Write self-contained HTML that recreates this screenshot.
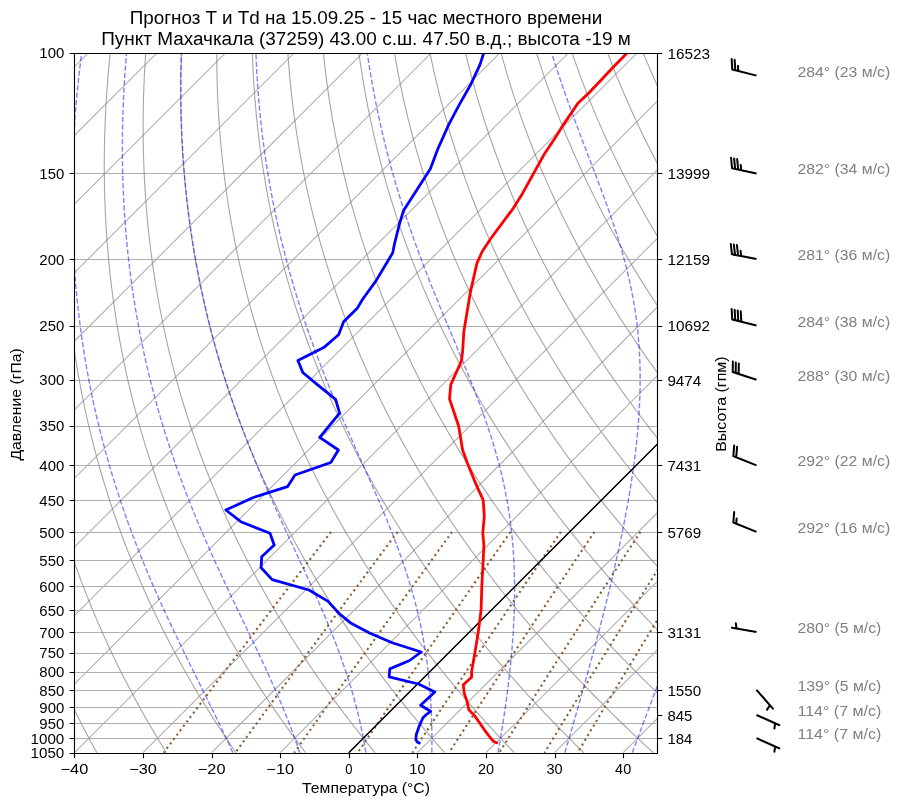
<!DOCTYPE html>
<html><head><meta charset="utf-8"><style>html,body{margin:0;padding:0;background:#fff;}body{width:900px;height:806px;overflow:hidden;}</style></head><body>
<svg width="900" height="806" viewBox="0 0 900 806" style="display:block;will-change:transform" font-family="Liberation Sans, sans-serif">
<defs><clipPath id="ax"><rect x="74.5" y="53.5" width="583.0" height="700.0"/></clipPath></defs>
<rect width="900" height="806" fill="#fff"/>
<g clip-path="url(#ax)">
<path d="M74.50,53.50H657.50M74.50,173.50H657.50M74.50,259.50H657.50M74.50,326.50H657.50M74.50,380.50H657.50M74.50,426.50H657.50M74.50,465.50H657.50M74.50,500.50H657.50M74.50,532.50H657.50M74.50,560.50H657.50M74.50,586.50H657.50M74.50,610.50H657.50M74.50,632.50H657.50M74.50,653.50H657.50M74.50,672.50H657.50M74.50,690.50H657.50M74.50,707.50H657.50M74.50,723.50H657.50M74.50,738.50H657.50M74.50,753.50H657.50" stroke="#b0b0b0" stroke-width="1.11" fill="none"/>
<path d="M-680.02,752.73L19.98,52.73M-611.43,752.73L88.57,52.73M-542.84,752.73L157.16,52.73M-474.26,752.73L225.74,52.73M-405.67,752.73L294.33,52.73M-337.08,752.73L362.92,52.73M-268.49,752.73L431.51,52.73M-199.90,752.73L500.10,52.73M-131.31,752.73L568.69,52.73M-62.73,752.73L637.27,52.73M5.86,752.73L705.86,52.73M74.45,752.73L774.45,52.73M143.04,752.73L843.04,52.73M211.63,752.73L911.63,52.73M280.21,752.73L980.21,52.73M348.80,752.73L1048.80,52.73M417.39,752.73L1117.39,52.73M485.98,752.73L1185.98,52.73M554.57,752.73L1254.57,52.73M623.16,752.73L1323.16,52.73" stroke="#b0b0b0" stroke-width="1.11" fill="none"/>
<path d="M96.90,752.73 L95.64,750.46 L94.38,748.17 L93.11,745.86 L91.85,743.54 L90.58,741.19 L89.31,738.83 L88.04,736.45 L86.76,734.05 L85.49,731.63 L84.21,729.19 L82.93,726.73 L81.65,724.25 L80.37,721.75 L79.09,719.23 L77.80,716.68 L76.52,714.12 L75.23,711.53 L73.94,708.92 L72.65,706.28 L71.35,703.63 L70.06,700.94 L68.76,698.24 L67.47,695.51 L66.17,692.75 L64.87,689.97 L63.57,687.16 L62.26,684.33 L60.96,681.47 L59.66,678.58 L58.35,675.66 L57.05,672.71 L55.74,669.74 L54.43,666.73 L53.12,663.69 L51.81,660.62 L50.50,657.52 L49.19,654.39 L47.88,651.23 L46.57,648.03 L45.26,644.79 L43.95,641.52 L42.64,638.21 L41.33,634.87 L40.01,631.49 L38.70,628.07 L37.39,624.61 L36.09,621.10 L34.78,617.56 L33.47,613.98 L32.16,610.35 L30.86,606.67 L29.56,602.95 L28.25,599.19 L26.95,595.37 L25.66,591.50 L24.36,587.59 L23.07,583.62 L21.78,579.60 L20.49,575.52 L19.21,571.39 L17.93,567.20 L16.66,562.95 L15.39,558.63 L14.12,554.26 L12.86,549.82 L11.61,545.31 L10.36,540.73 L9.12,536.08 L7.89,531.36 L6.66,526.56 L5.44,521.68 L4.23,516.72 L3.03,511.67 L1.84,506.54 L0.66,501.32 L-0.50,496.01 L-1.66,490.60 L-2.80,485.09 L-3.92,479.48 L-5.03,473.75 L-6.13,467.92 L-7.20,461.97 L-8.26,455.89 L-9.29,449.70 L-10.31,443.37 L-11.29,436.90 L-12.26,430.29 L-13.19,423.52 L-14.10,416.60 L-14.97,409.52 L-15.81,402.26 L-16.61,394.83 L-17.38,387.20 L-18.09,379.37 L-18.77,371.33 L-19.38,363.06 L-19.95,354.56 L-20.45,345.81 L-20.89,336.80 L-21.26,327.50 L-21.55,317.91 L-21.75,307.99 L-21.86,297.73 L-21.86,287.11 L-21.76,276.09 L-21.52,264.65 L-21.15,252.76 L-20.62,240.37 L-19.92,227.43 L-19.03,213.92 L-17.92,199.76 L-16.57,184.89 L-14.93,169.24 L-12.98,152.72 L-10.67,135.23 L-7.93,116.65 L-4.71,96.83 L-0.91,75.59 L3.58,52.73M166.45,752.73 L165.04,750.46 L163.62,748.17 L162.21,745.86 L160.79,743.54 L159.36,741.19 L157.94,738.83 L156.51,736.45 L155.08,734.05 L153.65,731.63 L152.21,729.19 L150.77,726.73 L149.33,724.25 L147.89,721.75 L146.44,719.23 L144.99,716.68 L143.54,714.12 L142.08,711.53 L140.63,708.92 L139.17,706.28 L137.70,703.63 L136.24,700.94 L134.77,698.24 L133.30,695.51 L131.83,692.75 L130.35,689.97 L128.88,687.16 L127.40,684.33 L125.91,681.47 L124.43,678.58 L122.94,675.66 L121.46,672.71 L119.96,669.74 L118.47,666.73 L116.98,663.69 L115.48,660.62 L113.98,657.52 L112.48,654.39 L110.98,651.23 L109.47,648.03 L107.97,644.79 L106.46,641.52 L104.95,638.21 L103.44,634.87 L101.93,631.49 L100.41,628.07 L98.90,624.61 L97.38,621.10 L95.87,617.56 L94.35,613.98 L92.83,610.35 L91.31,606.67 L89.79,602.95 L88.27,599.19 L86.76,595.37 L85.24,591.50 L83.72,587.59 L82.20,583.62 L80.68,579.60 L79.17,575.52 L77.65,571.39 L76.14,567.20 L74.63,562.95 L73.12,558.63 L71.61,554.26 L70.11,549.82 L68.61,545.31 L67.11,540.73 L65.61,536.08 L64.12,531.36 L62.64,526.56 L61.16,521.68 L59.69,516.72 L58.22,511.67 L56.76,506.54 L55.31,501.32 L53.86,496.01 L52.43,490.60 L51.00,485.09 L49.58,479.48 L48.18,473.75 L46.79,467.92 L45.41,461.97 L44.05,455.89 L42.71,449.70 L41.38,443.37 L40.07,436.90 L38.78,430.29 L37.52,423.52 L36.27,416.60 L35.06,409.52 L33.87,402.26 L32.72,394.83 L31.60,387.20 L30.51,379.37 L29.47,371.33 L28.47,363.06 L27.51,354.56 L26.61,345.81 L25.77,336.80 L24.99,327.50 L24.28,317.91 L23.64,307.99 L23.08,297.73 L22.62,287.11 L22.26,276.09 L22.02,264.65 L21.89,252.76 L21.91,240.37 L22.09,227.43 L22.44,213.92 L22.99,199.76 L23.76,184.89 L24.79,169.24 L26.12,152.72 L27.78,135.23 L29.84,116.65 L32.35,96.83 L35.41,75.59 L39.11,52.73M236.00,752.73 L234.44,750.46 L232.87,748.17 L231.30,745.86 L229.73,743.54 L228.15,741.19 L226.57,738.83 L224.98,736.45 L223.39,734.05 L221.80,731.63 L220.21,729.19 L218.61,726.73 L217.01,724.25 L215.40,721.75 L213.79,719.23 L212.18,716.68 L210.56,714.12 L208.94,711.53 L207.31,708.92 L205.68,706.28 L204.05,703.63 L202.42,700.94 L200.78,698.24 L199.14,695.51 L197.49,692.75 L195.84,689.97 L194.19,687.16 L192.53,684.33 L190.87,681.47 L189.20,678.58 L187.54,675.66 L185.87,672.71 L184.19,669.74 L182.51,666.73 L180.83,663.69 L179.15,660.62 L177.46,657.52 L175.77,654.39 L174.07,651.23 L172.37,648.03 L170.67,644.79 L168.97,641.52 L167.26,638.21 L165.55,634.87 L163.84,631.49 L162.12,628.07 L160.40,624.61 L158.68,621.10 L156.95,617.56 L155.23,613.98 L153.50,610.35 L151.77,606.67 L150.03,602.95 L148.30,599.19 L146.56,595.37 L144.82,591.50 L143.08,587.59 L141.33,583.62 L139.59,579.60 L137.84,575.52 L136.09,571.39 L134.35,567.20 L132.60,562.95 L130.85,558.63 L129.10,554.26 L127.35,549.82 L125.60,545.31 L123.85,540.73 L122.11,536.08 L120.36,531.36 L118.62,526.56 L116.88,521.68 L115.14,516.72 L113.40,511.67 L111.67,506.54 L109.95,501.32 L108.22,496.01 L106.51,490.60 L104.80,485.09 L103.09,479.48 L101.39,473.75 L99.71,467.92 L98.03,461.97 L96.36,455.89 L94.71,449.70 L93.06,443.37 L91.43,436.90 L89.82,430.29 L88.22,423.52 L86.65,416.60 L85.09,409.52 L83.56,402.26 L82.05,394.83 L80.57,387.20 L79.12,379.37 L77.70,371.33 L76.32,363.06 L74.97,354.56 L73.68,345.81 L72.43,336.80 L71.23,327.50 L70.10,317.91 L69.03,307.99 L68.03,297.73 L67.11,287.11 L66.28,276.09 L65.55,264.65 L64.94,252.76 L64.45,240.37 L64.10,227.43 L63.91,213.92 L63.90,199.76 L64.09,184.89 L64.52,169.24 L65.22,152.72 L66.24,135.23 L67.61,116.65 L69.41,96.83 L71.72,75.59 L74.63,52.73M305.55,752.73 L303.84,750.46 L302.12,748.17 L300.39,745.86 L298.67,743.54 L296.93,741.19 L295.20,738.83 L293.46,736.45 L291.71,734.05 L289.96,731.63 L288.20,729.19 L286.45,726.73 L284.68,724.25 L282.91,721.75 L281.14,719.23 L279.36,716.68 L277.58,714.12 L275.79,711.53 L274.00,708.92 L272.20,706.28 L270.40,703.63 L268.60,700.94 L266.79,698.24 L264.97,695.51 L263.15,692.75 L261.32,689.97 L259.49,687.16 L257.66,684.33 L255.82,681.47 L253.98,678.58 L252.13,675.66 L250.27,672.71 L248.42,669.74 L246.55,666.73 L244.69,663.69 L242.81,660.62 L240.94,657.52 L239.05,654.39 L237.17,651.23 L235.28,648.03 L233.38,644.79 L231.48,641.52 L229.57,638.21 L227.66,634.87 L225.75,631.49 L223.83,628.07 L221.90,624.61 L219.98,621.10 L218.04,617.56 L216.11,613.98 L214.17,610.35 L212.22,606.67 L210.27,602.95 L208.32,599.19 L206.36,595.37 L204.40,591.50 L202.43,587.59 L200.46,583.62 L198.49,579.60 L196.51,575.52 L194.54,571.39 L192.55,567.20 L190.57,562.95 L188.58,558.63 L186.59,554.26 L184.59,549.82 L182.60,545.31 L180.60,540.73 L178.60,536.08 L176.60,531.36 L174.60,526.56 L172.60,521.68 L170.59,516.72 L168.59,511.67 L166.59,506.54 L164.59,501.32 L162.59,496.01 L160.59,490.60 L158.59,485.09 L156.60,479.48 L154.61,473.75 L152.62,467.92 L150.64,461.97 L148.67,455.89 L146.70,449.70 L144.75,443.37 L142.80,436.90 L140.86,430.29 L138.93,423.52 L137.02,416.60 L135.12,409.52 L133.24,402.26 L131.38,394.83 L129.54,387.20 L127.72,379.37 L125.93,371.33 L124.17,363.06 L122.44,354.56 L120.74,345.81 L119.09,336.80 L117.48,327.50 L115.92,317.91 L114.41,307.99 L112.97,297.73 L111.60,287.11 L110.30,276.09 L109.09,264.65 L107.98,252.76 L106.98,240.37 L106.11,227.43 L105.38,213.92 L104.81,199.76 L104.42,184.89 L104.25,169.24 L104.33,152.72 L104.69,135.23 L105.38,116.65 L106.47,96.83 L108.03,75.59 L110.16,52.73M375.10,752.73 L373.24,750.46 L371.36,748.17 L369.49,745.86 L367.61,743.54 L365.72,741.19 L363.83,738.83 L361.93,736.45 L360.03,734.05 L358.12,731.63 L356.20,729.19 L354.28,726.73 L352.36,724.25 L350.43,721.75 L348.49,719.23 L346.55,716.68 L344.60,714.12 L342.65,711.53 L340.69,708.92 L338.72,706.28 L336.75,703.63 L334.77,700.94 L332.79,698.24 L330.80,695.51 L328.81,692.75 L326.81,689.97 L324.80,687.16 L322.79,684.33 L320.77,681.47 L318.75,678.58 L316.72,675.66 L314.68,672.71 L312.64,669.74 L310.59,666.73 L308.54,663.69 L306.48,660.62 L304.41,657.52 L302.34,654.39 L300.26,651.23 L298.18,648.03 L296.09,644.79 L293.99,641.52 L291.88,638.21 L289.77,634.87 L287.66,631.49 L285.54,628.07 L283.41,624.61 L281.27,621.10 L279.13,617.56 L276.99,613.98 L274.83,610.35 L272.67,606.67 L270.51,602.95 L268.34,599.19 L266.16,595.37 L263.98,591.50 L261.79,587.59 L259.59,583.62 L257.39,579.60 L255.19,575.52 L252.98,571.39 L250.76,567.20 L248.54,562.95 L246.31,558.63 L244.08,554.26 L241.84,549.82 L239.59,545.31 L237.35,540.73 L235.10,536.08 L232.84,531.36 L230.58,526.56 L228.31,521.68 L226.05,516.72 L223.78,511.67 L221.50,506.54 L219.23,501.32 L216.95,496.01 L214.67,490.60 L212.39,485.09 L210.10,479.48 L207.82,473.75 L205.54,467.92 L203.26,461.97 L200.98,455.89 L198.70,449.70 L196.43,443.37 L194.16,436.90 L191.90,430.29 L189.64,423.52 L187.39,416.60 L185.16,409.52 L182.93,402.26 L180.71,394.83 L178.51,387.20 L176.33,379.37 L174.16,371.33 L172.02,363.06 L169.90,354.56 L167.81,345.81 L165.75,336.80 L163.72,327.50 L161.74,317.91 L159.80,307.99 L157.91,297.73 L156.08,287.11 L154.32,276.09 L152.63,264.65 L151.03,252.76 L149.52,240.37 L148.12,227.43 L146.84,213.92 L145.72,199.76 L144.75,184.89 L143.98,169.24 L143.43,152.72 L143.14,135.23 L143.16,116.65 L143.54,96.83 L144.35,75.59 L145.68,52.73M444.65,752.73 L442.64,750.46 L440.61,748.17 L438.58,745.86 L436.55,743.54 L434.50,741.19 L432.46,738.83 L430.40,736.45 L428.34,734.05 L426.27,731.63 L424.20,729.19 L422.12,726.73 L420.03,724.25 L417.94,721.75 L415.84,719.23 L413.73,716.68 L411.62,714.12 L409.50,711.53 L407.37,708.92 L405.24,706.28 L403.10,703.63 L400.95,700.94 L398.80,698.24 L396.64,695.51 L394.47,692.75 L392.30,689.97 L390.11,687.16 L387.92,684.33 L385.73,681.47 L383.52,678.58 L381.31,675.66 L379.09,672.71 L376.87,669.74 L374.64,666.73 L372.39,663.69 L370.15,660.62 L367.89,657.52 L365.63,654.39 L363.36,651.23 L361.08,648.03 L358.79,644.79 L356.50,641.52 L354.20,638.21 L351.89,634.87 L349.57,631.49 L347.24,628.07 L344.91,624.61 L342.57,621.10 L340.22,617.56 L337.87,613.98 L335.50,610.35 L333.13,606.67 L330.75,602.95 L328.36,599.19 L325.96,595.37 L323.56,591.50 L321.15,587.59 L318.73,583.62 L316.30,579.60 L313.86,575.52 L311.42,571.39 L308.97,567.20 L306.51,562.95 L304.04,558.63 L301.56,554.26 L299.08,549.82 L296.59,545.31 L294.09,540.73 L291.59,536.08 L289.08,531.36 L286.56,526.56 L284.03,521.68 L281.50,516.72 L278.96,511.67 L276.42,506.54 L273.87,501.32 L271.31,496.01 L268.75,490.60 L266.18,485.09 L263.61,479.48 L261.04,473.75 L258.46,467.92 L255.87,461.97 L253.29,455.89 L250.70,449.70 L248.11,443.37 L245.53,436.90 L242.94,430.29 L240.35,423.52 L237.77,416.60 L235.19,409.52 L232.61,402.26 L230.04,394.83 L227.48,387.20 L224.93,379.37 L222.39,371.33 L219.87,363.06 L217.36,354.56 L214.87,345.81 L212.41,336.80 L209.97,327.50 L207.56,317.91 L205.19,307.99 L202.85,297.73 L200.57,287.11 L198.34,276.09 L196.17,264.65 L194.07,252.76 L192.05,240.37 L190.13,227.43 L188.31,213.92 L186.62,199.76 L185.08,184.89 L183.71,169.24 L182.53,152.72 L181.59,135.23 L180.93,116.65 L180.60,96.83 L180.66,75.59 L181.21,52.73M514.20,752.73 L512.04,750.46 L509.86,748.17 L507.68,745.86 L505.49,743.54 L503.29,741.19 L501.09,738.83 L498.87,736.45 L496.66,734.05 L494.43,731.63 L492.20,729.19 L489.96,726.73 L487.71,724.25 L485.45,721.75 L483.19,719.23 L480.92,716.68 L478.64,714.12 L476.35,711.53 L474.06,708.92 L471.76,706.28 L469.45,703.63 L467.13,700.94 L464.81,698.24 L462.47,695.51 L460.13,692.75 L457.78,689.97 L455.42,687.16 L453.06,684.33 L450.68,681.47 L448.30,678.58 L445.90,675.66 L443.50,672.71 L441.09,669.74 L438.68,666.73 L436.25,663.69 L433.81,660.62 L431.37,657.52 L428.91,654.39 L426.45,651.23 L423.98,648.03 L421.50,644.79 L419.01,641.52 L416.51,638.21 L414.00,634.87 L411.48,631.49 L408.95,628.07 L406.42,624.61 L403.87,621.10 L401.31,617.56 L398.74,613.98 L396.17,610.35 L393.58,606.67 L390.99,602.95 L388.38,599.19 L385.76,595.37 L383.14,591.50 L380.50,587.59 L377.86,583.62 L375.20,579.60 L372.53,575.52 L369.86,571.39 L367.17,567.20 L364.48,562.95 L361.77,558.63 L359.05,554.26 L356.32,549.82 L353.59,545.31 L350.84,540.73 L348.08,536.08 L345.32,531.36 L342.54,526.56 L339.75,521.68 L336.95,516.72 L334.15,511.67 L331.33,506.54 L328.51,501.32 L325.67,496.01 L322.83,490.60 L319.98,485.09 L317.12,479.48 L314.25,473.75 L311.37,467.92 L308.49,461.97 L305.60,455.89 L302.70,449.70 L299.80,443.37 L296.89,436.90 L293.98,430.29 L291.06,423.52 L288.14,416.60 L285.22,409.52 L282.30,402.26 L279.37,394.83 L276.45,387.20 L273.54,379.37 L270.62,371.33 L267.72,363.06 L264.82,354.56 L261.94,345.81 L259.07,336.80 L256.21,327.50 L253.38,317.91 L250.57,307.99 L247.80,297.73 L245.06,287.11 L242.36,276.09 L239.71,264.65 L237.11,252.76 L234.59,240.37 L232.14,227.43 L229.78,213.92 L227.53,199.76 L225.41,184.89 L223.44,169.24 L221.64,152.72 L220.04,135.23 L218.70,116.65 L217.66,96.83 L216.97,75.59 L216.73,52.73M583.76,752.73 L581.43,750.46 L579.11,748.17 L576.77,745.86 L574.43,743.54 L572.07,741.19 L569.71,738.83 L567.35,736.45 L564.97,734.05 L562.59,731.63 L560.19,729.19 L557.79,726.73 L555.38,724.25 L552.97,721.75 L550.54,719.23 L548.11,716.68 L545.66,714.12 L543.21,711.53 L540.75,708.92 L538.28,706.28 L535.80,703.63 L533.31,700.94 L530.81,698.24 L528.31,695.51 L525.79,692.75 L523.27,689.97 L520.73,687.16 L518.19,684.33 L515.63,681.47 L513.07,678.58 L510.50,675.66 L507.91,672.71 L505.32,669.74 L502.72,666.73 L500.10,663.69 L497.48,660.62 L494.85,657.52 L492.20,654.39 L489.55,651.23 L486.88,648.03 L484.21,644.79 L481.52,641.52 L478.82,638.21 L476.11,634.87 L473.39,631.49 L470.66,628.07 L467.92,624.61 L465.17,621.10 L462.40,617.56 L459.62,613.98 L456.84,610.35 L454.04,606.67 L451.23,602.95 L448.40,599.19 L445.57,595.37 L442.72,591.50 L439.86,587.59 L436.99,583.62 L434.10,579.60 L431.21,575.52 L428.30,571.39 L425.38,567.20 L422.45,562.95 L419.50,558.63 L416.54,554.26 L413.57,549.82 L410.58,545.31 L407.59,540.73 L404.58,536.08 L401.55,531.36 L398.52,526.56 L395.47,521.68 L392.41,516.72 L389.33,511.67 L386.25,506.54 L383.15,501.32 L380.04,496.01 L376.91,490.60 L373.77,485.09 L370.62,479.48 L367.46,473.75 L364.29,467.92 L361.10,461.97 L357.91,455.89 L354.70,449.70 L351.48,443.37 L348.25,436.90 L345.02,430.29 L341.77,423.52 L338.51,416.60 L335.25,409.52 L331.98,402.26 L328.71,394.83 L325.43,387.20 L322.14,379.37 L318.85,371.33 L315.57,363.06 L312.28,354.56 L309.00,345.81 L305.72,336.80 L302.46,327.50 L299.20,317.91 L295.96,307.99 L292.74,297.73 L289.54,287.11 L286.38,276.09 L283.24,264.65 L280.16,252.76 L277.12,240.37 L274.15,227.43 L271.25,213.92 L268.44,199.76 L265.74,184.89 L263.16,169.24 L260.74,152.72 L258.50,135.23 L256.47,116.65 L254.72,96.83 L253.29,75.59 L252.26,52.73M653.31,752.73 L650.83,750.46 L648.35,748.17 L645.86,745.86 L643.37,743.54 L640.86,741.19 L638.34,738.83 L635.82,736.45 L633.29,734.05 L630.74,731.63 L628.19,729.19 L625.63,726.73 L623.06,724.25 L620.48,721.75 L617.89,719.23 L615.29,716.68 L612.68,714.12 L610.06,711.53 L607.44,708.92 L604.80,706.28 L602.15,703.63 L599.49,700.94 L596.82,698.24 L594.14,695.51 L591.45,692.75 L588.75,689.97 L586.04,687.16 L583.32,684.33 L580.59,681.47 L577.84,678.58 L575.09,675.66 L572.32,672.71 L569.55,669.74 L566.76,666.73 L563.96,663.69 L561.15,660.62 L558.32,657.52 L555.49,654.39 L552.64,651.23 L549.78,648.03 L546.91,644.79 L544.03,641.52 L541.13,638.21 L538.22,634.87 L535.30,631.49 L532.37,628.07 L529.42,624.61 L526.46,621.10 L523.49,617.56 L520.50,613.98 L517.50,610.35 L514.49,606.67 L511.46,602.95 L508.42,599.19 L505.37,595.37 L502.30,591.50 L499.22,587.59 L496.12,583.62 L493.01,579.60 L489.88,575.52 L486.74,571.39 L483.59,567.20 L480.41,562.95 L477.23,558.63 L474.03,554.26 L470.81,549.82 L467.58,545.31 L464.33,540.73 L461.07,536.08 L457.79,531.36 L454.50,526.56 L451.19,521.68 L447.86,516.72 L444.52,511.67 L441.16,506.54 L437.79,501.32 L434.40,496.01 L430.99,490.60 L427.57,485.09 L424.13,479.48 L420.68,473.75 L417.21,467.92 L413.72,461.97 L410.22,455.89 L406.70,449.70 L403.17,443.37 L399.62,436.90 L396.06,430.29 L392.48,423.52 L388.89,416.60 L385.28,409.52 L381.67,402.26 L378.04,394.83 L374.40,387.20 L370.75,379.37 L367.09,371.33 L363.42,363.06 L359.74,354.56 L356.07,345.81 L352.38,336.80 L348.70,327.50 L345.02,317.91 L341.35,307.99 L337.68,297.73 L334.03,287.11 L330.39,276.09 L326.78,264.65 L323.20,252.76 L319.66,240.37 L316.16,227.43 L312.72,213.92 L309.35,199.76 L306.07,184.89 L302.89,169.24 L299.84,152.72 L296.95,135.23 L294.25,116.65 L291.78,96.83 L289.60,75.59 L287.78,52.73M722.86,752.73 L720.23,750.46 L717.60,748.17 L714.96,745.86 L712.31,743.54 L709.64,741.19 L706.97,738.83 L704.29,736.45 L701.60,734.05 L698.90,731.63 L696.19,729.19 L693.47,726.73 L690.74,724.25 L687.99,721.75 L685.24,719.23 L682.48,716.68 L679.70,714.12 L676.92,711.53 L674.12,708.92 L671.32,706.28 L668.50,703.63 L665.67,700.94 L662.83,698.24 L659.98,695.51 L657.11,692.75 L654.24,689.97 L651.35,687.16 L648.45,684.33 L645.54,681.47 L642.62,678.58 L639.68,675.66 L636.73,672.71 L633.77,669.74 L630.80,666.73 L627.81,663.69 L624.81,660.62 L621.80,657.52 L618.78,654.39 L615.74,651.23 L612.68,648.03 L609.62,644.79 L606.54,641.52 L603.44,638.21 L600.34,634.87 L597.21,631.49 L594.08,628.07 L590.93,624.61 L587.76,621.10 L584.58,617.56 L581.38,613.98 L578.17,610.35 L574.94,606.67 L571.70,602.95 L568.44,599.19 L565.17,595.37 L561.88,591.50 L558.57,587.59 L555.25,583.62 L551.91,579.60 L548.56,575.52 L545.18,571.39 L541.79,567.20 L538.38,562.95 L534.96,558.63 L531.52,554.26 L528.06,549.82 L524.58,545.31 L521.08,540.73 L517.56,536.08 L514.03,531.36 L510.48,526.56 L506.91,521.68 L503.32,516.72 L499.71,511.67 L496.08,506.54 L492.43,501.32 L488.76,496.01 L485.07,490.60 L481.37,485.09 L477.64,479.48 L473.89,473.75 L470.12,467.92 L466.33,461.97 L462.53,455.89 L458.70,449.70 L454.85,443.37 L450.98,436.90 L447.10,430.29 L443.19,423.52 L439.26,416.60 L435.32,409.52 L431.35,402.26 L427.37,394.83 L423.37,387.20 L419.35,379.37 L415.32,371.33 L411.27,363.06 L407.21,354.56 L403.13,345.81 L399.04,336.80 L394.95,327.50 L390.84,317.91 L386.73,307.99 L382.62,297.73 L378.52,287.11 L374.41,276.09 L370.32,264.65 L366.24,252.76 L362.19,240.37 L358.17,227.43 L354.19,213.92 L350.26,199.76 L346.40,184.89 L342.62,169.24 L338.95,152.72 L335.40,135.23 L332.02,116.65 L328.84,96.83 L325.91,75.59 L323.31,52.73M792.41,752.73 L789.63,750.46 L786.85,748.17 L784.05,745.86 L781.25,743.54 L778.43,741.19 L775.60,738.83 L772.76,736.45 L769.92,734.05 L767.06,731.63 L764.19,729.19 L761.30,726.73 L758.41,724.25 L755.51,721.75 L752.59,719.23 L749.66,716.68 L746.72,714.12 L743.77,711.53 L740.81,708.92 L737.83,706.28 L734.85,703.63 L731.85,700.94 L728.84,698.24 L725.81,695.51 L722.77,692.75 L719.72,689.97 L716.66,687.16 L713.58,684.33 L710.49,681.47 L707.39,678.58 L704.27,675.66 L701.14,672.71 L698.00,669.74 L694.84,666.73 L691.67,663.69 L688.48,660.62 L685.28,657.52 L682.06,654.39 L678.83,651.23 L675.59,648.03 L672.33,644.79 L669.05,641.52 L665.76,638.21 L662.45,634.87 L659.13,631.49 L655.79,628.07 L652.43,624.61 L649.06,621.10 L645.67,617.56 L642.26,613.98 L638.84,610.35 L635.40,606.67 L631.94,602.95 L628.47,599.19 L624.97,595.37 L621.46,591.50 L617.93,587.59 L614.38,583.62 L610.81,579.60 L607.23,575.52 L603.62,571.39 L600.00,567.20 L596.35,562.95 L592.69,558.63 L589.00,554.26 L585.30,549.82 L581.57,545.31 L577.83,540.73 L574.06,536.08 L570.27,531.36 L566.46,526.56 L562.63,521.68 L558.77,516.72 L554.89,511.67 L550.99,506.54 L547.07,501.32 L543.12,496.01 L539.15,490.60 L535.16,485.09 L531.14,479.48 L527.10,473.75 L523.04,467.92 L518.95,461.97 L514.84,455.89 L510.70,449.70 L506.54,443.37 L502.35,436.90 L498.14,430.29 L493.90,423.52 L489.64,416.60 L485.35,409.52 L481.04,402.26 L476.70,394.83 L472.34,387.20 L467.96,379.37 L463.55,371.33 L459.12,363.06 L454.67,354.56 L450.19,345.81 L445.70,336.80 L441.19,327.50 L436.66,317.91 L432.12,307.99 L427.57,297.73 L423.00,287.11 L418.43,276.09 L413.86,264.65 L409.29,252.76 L404.73,240.37 L400.18,227.43 L395.66,213.92 L391.17,199.76 L386.73,184.89 L382.35,169.24 L378.05,152.72 L373.85,135.23 L369.79,116.65 L365.90,96.83 L362.23,75.59 L358.83,52.73M861.96,752.73 L859.03,750.46 L856.10,748.17 L853.15,745.86 L850.19,743.54 L847.22,741.19 L844.23,738.83 L841.24,736.45 L838.23,734.05 L835.21,731.63 L832.18,729.19 L829.14,726.73 L826.09,724.25 L823.02,721.75 L819.94,719.23 L816.85,716.68 L813.74,714.12 L810.63,711.53 L807.50,708.92 L804.35,706.28 L801.20,703.63 L798.03,700.94 L794.84,698.24 L791.65,695.51 L788.43,692.75 L785.21,689.97 L781.97,687.16 L778.71,684.33 L775.45,681.47 L772.16,678.58 L768.87,675.66 L765.55,672.71 L762.22,669.74 L758.88,666.73 L755.52,663.69 L752.15,660.62 L748.76,657.52 L745.35,654.39 L741.93,651.23 L738.49,648.03 L735.03,644.79 L731.56,641.52 L728.07,638.21 L724.56,634.87 L721.04,631.49 L717.49,628.07 L713.93,624.61 L710.35,621.10 L706.76,617.56 L703.14,613.98 L699.51,610.35 L695.85,606.67 L692.18,602.95 L688.49,599.19 L684.77,595.37 L681.04,591.50 L677.29,587.59 L673.51,583.62 L669.72,579.60 L665.90,575.52 L662.06,571.39 L658.20,567.20 L654.32,562.95 L650.42,558.63 L646.49,554.26 L642.54,549.82 L638.57,545.31 L634.57,540.73 L630.55,536.08 L626.51,531.36 L622.44,526.56 L618.34,521.68 L614.22,516.72 L610.08,511.67 L605.91,506.54 L601.71,501.32 L597.49,496.01 L593.24,490.60 L588.96,485.09 L584.65,479.48 L580.32,473.75 L575.96,467.92 L571.56,461.97 L567.15,455.89 L562.70,449.70 L558.22,443.37 L553.71,436.90 L549.17,430.29 L544.61,423.52 L540.01,416.60 L535.38,409.52 L530.72,402.26 L526.03,394.83 L521.31,387.20 L516.56,379.37 L511.78,371.33 L506.97,363.06 L502.13,354.56 L497.26,345.81 L492.36,336.80 L487.44,327.50 L482.48,317.91 L477.51,307.99 L472.51,297.73 L467.49,287.11 L462.45,276.09 L457.40,264.65 L452.33,252.76 L447.26,240.37 L442.19,227.43 L437.13,213.92 L432.08,199.76 L427.06,184.89 L422.08,169.24 L417.15,152.72 L412.31,135.23 L407.56,116.65 L402.96,96.83 L398.54,75.59 L394.36,52.73M931.51,752.73 L928.43,750.46 L925.34,748.17 L922.24,745.86 L919.13,743.54 L916.00,741.19 L912.86,738.83 L909.71,736.45 L906.55,734.05 L903.37,731.63 L900.18,729.19 L896.98,726.73 L893.76,724.25 L890.53,721.75 L887.29,719.23 L884.03,716.68 L880.77,714.12 L877.48,711.53 L874.18,708.92 L870.87,706.28 L867.55,703.63 L864.21,700.94 L860.85,698.24 L857.48,695.51 L854.09,692.75 L850.69,689.97 L847.28,687.16 L843.85,684.33 L840.40,681.47 L836.94,678.58 L833.46,675.66 L829.96,672.71 L826.45,669.74 L822.92,666.73 L819.38,663.69 L815.81,660.62 L812.23,657.52 L808.64,654.39 L805.02,651.23 L801.39,648.03 L797.74,644.79 L794.07,641.52 L790.38,638.21 L786.67,634.87 L782.95,631.49 L779.20,628.07 L775.44,624.61 L771.65,621.10 L767.85,617.56 L764.02,613.98 L760.17,610.35 L756.31,606.67 L752.42,602.95 L748.51,599.19 L744.58,595.37 L740.62,591.50 L736.64,587.59 L732.64,583.62 L728.62,579.60 L724.58,575.52 L720.51,571.39 L716.41,567.20 L712.29,562.95 L708.15,558.63 L703.98,554.26 L699.79,549.82 L695.57,545.31 L691.32,540.73 L687.05,536.08 L682.75,531.36 L678.42,526.56 L674.06,521.68 L669.68,516.72 L665.26,511.67 L660.82,506.54 L656.35,501.32 L651.85,496.01 L647.32,490.60 L642.75,485.09 L638.16,479.48 L633.53,473.75 L628.87,467.92 L624.18,461.97 L619.46,455.89 L614.70,449.70 L609.90,443.37 L605.08,436.90 L600.21,430.29 L595.32,423.52 L590.38,416.60 L585.41,409.52 L580.41,402.26 L575.36,394.83 L570.28,387.20 L565.17,379.37 L560.01,371.33 L554.82,363.06 L549.59,354.56 L544.32,345.81 L539.02,336.80 L533.68,327.50 L528.31,317.91 L522.90,307.99 L517.45,297.73 L511.97,287.11 L506.47,276.09 L500.93,264.65 L495.37,252.76 L489.80,240.37 L484.20,227.43 L478.59,213.92 L472.99,199.76 L467.39,184.89 L461.80,169.24 L456.25,152.72 L450.76,135.23 L445.34,116.65 L440.02,96.83 L434.85,75.59 L429.88,52.73M1001.06,752.73 L997.83,750.46 L994.59,748.17 L991.33,745.86 L988.07,743.54 L984.79,741.19 L981.49,738.83 L978.18,736.45 L974.86,734.05 L971.53,731.63 L968.18,729.19 L964.81,726.73 L961.44,724.25 L958.05,721.75 L954.64,719.23 L951.22,716.68 L947.79,714.12 L944.34,711.53 L940.87,708.92 L937.39,706.28 L933.90,703.63 L930.38,700.94 L926.86,698.24 L923.31,695.51 L919.75,692.75 L916.18,689.97 L912.59,687.16 L908.98,684.33 L905.35,681.47 L901.71,678.58 L898.05,675.66 L894.37,672.71 L890.68,669.74 L886.96,666.73 L883.23,663.69 L879.48,660.62 L875.71,657.52 L871.92,654.39 L868.12,651.23 L864.29,648.03 L860.44,644.79 L856.58,641.52 L852.69,638.21 L848.79,634.87 L844.86,631.49 L840.91,628.07 L836.94,624.61 L832.95,621.10 L828.94,617.56 L824.90,613.98 L820.84,610.35 L816.76,606.67 L812.66,602.95 L808.53,599.19 L804.38,595.37 L800.20,591.50 L796.00,587.59 L791.78,583.62 L787.53,579.60 L783.25,575.52 L778.95,571.39 L774.62,567.20 L770.26,562.95 L765.88,558.63 L761.47,554.26 L757.03,549.82 L752.56,545.31 L748.07,540.73 L743.54,536.08 L738.98,531.36 L734.40,526.56 L729.78,521.68 L725.13,516.72 L720.45,511.67 L715.74,506.54 L710.99,501.32 L706.21,496.01 L701.40,490.60 L696.55,485.09 L691.66,479.48 L686.74,473.75 L681.79,467.92 L676.80,461.97 L671.76,455.89 L666.70,449.70 L661.59,443.37 L656.44,436.90 L651.25,430.29 L646.03,423.52 L640.76,416.60 L635.44,409.52 L630.09,402.26 L624.70,394.83 L619.26,387.20 L613.77,379.37 L608.24,371.33 L602.67,363.06 L597.05,354.56 L591.39,345.81 L585.68,336.80 L579.93,327.50 L574.13,317.91 L568.28,307.99 L562.39,297.73 L556.46,287.11 L550.49,276.09 L544.47,264.65 L538.42,252.76 L532.33,240.37 L526.21,227.43 L520.06,213.92 L513.90,199.76 L507.71,184.89 L501.53,169.24 L495.36,152.72 L489.21,135.23 L483.11,116.65 L477.08,96.83 L471.17,75.59 L465.41,52.73M1070.61,752.73 L1067.23,750.46 L1063.84,748.17 L1060.43,745.86 L1057.01,743.54 L1053.57,741.19 L1050.12,738.83 L1046.66,736.45 L1043.18,734.05 L1039.68,731.63 L1036.18,729.19 L1032.65,726.73 L1029.11,724.25 L1025.56,721.75 L1021.99,719.23 L1018.41,716.68 L1014.81,714.12 L1011.19,711.53 L1007.56,708.92 L1003.91,706.28 L1000.24,703.63 L996.56,700.94 L992.86,698.24 L989.15,695.51 L985.42,692.75 L981.66,689.97 L977.90,687.16 L974.11,684.33 L970.31,681.47 L966.48,678.58 L962.64,675.66 L958.78,672.71 L954.90,669.74 L951.00,666.73 L947.09,663.69 L943.15,660.62 L939.19,657.52 L935.21,654.39 L931.21,651.23 L927.19,648.03 L923.15,644.79 L919.09,641.52 L915.00,638.21 L910.90,634.87 L906.77,631.49 L902.62,628.07 L898.44,624.61 L894.25,621.10 L890.02,617.56 L885.78,613.98 L881.51,610.35 L877.21,606.67 L872.89,602.95 L868.55,599.19 L864.18,595.37 L859.78,591.50 L855.36,587.59 L850.91,583.62 L846.43,579.60 L841.92,575.52 L837.39,571.39 L832.82,567.20 L828.23,562.95 L823.61,558.63 L818.96,554.26 L814.27,549.82 L809.56,545.31 L804.81,540.73 L800.03,536.08 L795.22,531.36 L790.38,526.56 L785.50,521.68 L780.59,516.72 L775.64,511.67 L770.65,506.54 L765.63,501.32 L760.57,496.01 L755.48,490.60 L750.34,485.09 L745.17,479.48 L739.96,473.75 L734.70,467.92 L729.41,461.97 L724.07,455.89 L718.69,449.70 L713.27,443.37 L707.80,436.90 L702.29,430.29 L696.73,423.52 L691.13,416.60 L685.48,409.52 L679.78,402.26 L674.03,394.83 L668.23,387.20 L662.38,379.37 L656.48,371.33 L650.52,363.06 L644.51,354.56 L638.45,345.81 L632.34,336.80 L626.17,327.50 L619.95,317.91 L613.67,307.99 L607.34,297.73 L600.95,287.11 L594.51,276.09 L588.01,264.65 L581.46,252.76 L574.86,240.37 L568.22,227.43 L561.53,213.92 L554.80,199.76 L548.04,184.89 L541.26,169.24 L534.46,152.72 L527.66,135.23 L520.88,116.65 L514.14,96.83 L507.48,75.59 L500.93,52.73M1140.16,752.73 L1136.63,750.46 L1133.08,748.17 L1129.52,745.86 L1125.95,743.54 L1122.36,741.19 L1118.75,738.83 L1115.13,736.45 L1111.49,734.05 L1107.84,731.63 L1104.17,729.19 L1100.49,726.73 L1096.79,724.25 L1093.07,721.75 L1089.34,719.23 L1085.59,716.68 L1081.83,714.12 L1078.04,711.53 L1074.25,708.92 L1070.43,706.28 L1066.59,703.63 L1062.74,700.94 L1058.87,698.24 L1054.98,695.51 L1051.08,692.75 L1047.15,689.97 L1043.21,687.16 L1039.24,684.33 L1035.26,681.47 L1031.26,678.58 L1027.23,675.66 L1023.19,672.71 L1019.13,669.74 L1015.04,666.73 L1010.94,663.69 L1006.81,660.62 L1002.67,657.52 L998.50,654.39 L994.31,651.23 L990.09,648.03 L985.86,644.79 L981.60,641.52 L977.32,638.21 L973.01,634.87 L968.68,631.49 L964.33,628.07 L959.95,624.61 L955.54,621.10 L951.11,617.56 L946.66,613.98 L942.18,610.35 L937.67,606.67 L933.13,602.95 L928.57,599.19 L923.98,595.37 L919.36,591.50 L914.71,587.59 L910.04,583.62 L905.33,579.60 L900.60,575.52 L895.83,571.39 L891.03,567.20 L886.20,562.95 L881.34,558.63 L876.44,554.26 L871.52,549.82 L866.56,545.31 L861.56,540.73 L856.53,536.08 L851.46,531.36 L846.36,526.56 L841.22,521.68 L836.04,516.72 L830.82,511.67 L825.57,506.54 L820.27,501.32 L814.94,496.01 L809.56,490.60 L804.14,485.09 L798.68,479.48 L793.17,473.75 L787.62,467.92 L782.03,461.97 L776.38,455.89 L770.69,449.70 L764.96,443.37 L759.17,436.90 L753.33,430.29 L747.44,423.52 L741.50,416.60 L735.51,409.52 L729.46,402.26 L723.36,394.83 L717.20,387.20 L710.98,379.37 L704.71,371.33 L698.37,363.06 L691.98,354.56 L685.52,345.81 L679.00,336.80 L672.42,327.50 L665.77,317.91 L659.06,307.99 L652.28,297.73 L645.43,287.11 L638.52,276.09 L631.55,264.65 L624.51,252.76 L617.40,240.37 L610.23,227.43 L603.00,213.92 L595.71,199.76 L588.37,184.89 L580.99,169.24 L573.56,152.72 L566.11,135.23 L558.65,116.65 L551.21,96.83 L543.79,75.59 L536.46,52.73M1209.71,752.73 L1206.03,750.46 L1202.33,748.17 L1198.62,745.86 L1194.89,743.54 L1191.14,741.19 L1187.38,738.83 L1183.60,736.45 L1179.81,734.05 L1176.00,731.63 L1172.17,729.19 L1168.33,726.73 L1164.46,724.25 L1160.59,721.75 L1156.69,719.23 L1152.78,716.68 L1148.85,714.12 L1144.90,711.53 L1140.93,708.92 L1136.95,706.28 L1132.94,703.63 L1128.92,700.94 L1124.88,698.24 L1120.82,695.51 L1116.74,692.75 L1112.64,689.97 L1108.51,687.16 L1104.37,684.33 L1100.21,681.47 L1096.03,678.58 L1091.83,675.66 L1087.60,672.71 L1083.35,669.74 L1079.09,666.73 L1074.80,663.69 L1070.48,660.62 L1066.15,657.52 L1061.79,654.39 L1057.40,651.23 L1053.00,648.03 L1048.56,644.79 L1044.11,641.52 L1039.63,638.21 L1035.12,634.87 L1030.59,631.49 L1026.03,628.07 L1021.45,624.61 L1016.84,621.10 L1012.20,617.56 L1007.54,613.98 L1002.84,610.35 L998.12,606.67 L993.37,602.95 L988.59,599.19 L983.78,595.37 L978.94,591.50 L974.07,587.59 L969.17,583.62 L964.24,579.60 L959.27,575.52 L954.27,571.39 L949.24,567.20 L944.17,562.95 L939.07,558.63 L933.93,554.26 L928.76,549.82 L923.55,545.31 L918.31,540.73 L913.02,536.08 L907.70,531.36 L902.34,526.56 L896.94,521.68 L891.49,516.72 L886.01,511.67 L880.48,506.54 L874.91,501.32 L869.30,496.01 L863.64,490.60 L857.94,485.09 L852.18,479.48 L846.39,473.75 L840.54,467.92 L834.64,461.97 L828.69,455.89 L822.69,449.70 L816.64,443.37 L810.53,436.90 L804.37,430.29 L798.15,423.52 L791.88,416.60 L785.54,409.52 L779.15,402.26 L772.69,394.83 L766.17,387.20 L759.59,379.37 L752.94,371.33 L746.22,363.06 L739.44,354.56 L732.58,345.81 L725.66,336.80 L718.66,327.50 L711.59,317.91 L704.44,307.99 L697.22,297.73 L689.92,287.11 L682.54,276.09 L675.09,264.65 L667.55,252.76 L659.93,240.37 L652.24,227.43 L644.47,213.92 L636.62,199.76 L628.70,184.89 L620.72,169.24 L612.67,152.72 L604.57,135.23 L596.43,116.65 L588.27,96.83 L580.11,75.59 L571.98,52.73M1279.27,752.73 L1275.43,750.46 L1271.58,748.17 L1267.71,745.86 L1263.83,743.54 L1259.93,741.19 L1256.01,738.83 L1252.07,736.45 L1248.12,734.05 L1244.15,731.63 L1240.17,729.19 L1236.16,726.73 L1232.14,724.25 L1228.10,721.75 L1224.04,719.23 L1219.96,716.68 L1215.87,714.12 L1211.75,711.53 L1207.62,708.92 L1203.47,706.28 L1199.29,703.63 L1195.10,700.94 L1190.89,698.24 L1186.65,695.51 L1182.40,692.75 L1178.12,689.97 L1173.82,687.16 L1169.51,684.33 L1165.17,681.47 L1160.80,678.58 L1156.42,675.66 L1152.01,672.71 L1147.58,669.74 L1143.13,666.73 L1138.65,663.69 L1134.15,660.62 L1129.62,657.52 L1125.07,654.39 L1120.50,651.23 L1115.90,648.03 L1111.27,644.79 L1106.62,641.52 L1101.94,638.21 L1097.24,634.87 L1092.50,631.49 L1087.74,628.07 L1082.95,624.61 L1078.14,621.10 L1073.29,617.56 L1068.42,613.98 L1063.51,610.35 L1058.58,606.67 L1053.61,602.95 L1048.61,599.19 L1043.58,595.37 L1038.52,591.50 L1033.43,587.59 L1028.30,583.62 L1023.14,579.60 L1017.94,575.52 L1012.71,571.39 L1007.44,567.20 L1002.14,562.95 L996.80,558.63 L991.42,554.26 L986.00,549.82 L980.55,545.31 L975.05,540.73 L969.52,536.08 L963.94,531.36 L958.32,526.56 L952.65,521.68 L946.95,516.72 L941.19,511.67 L935.40,506.54 L929.55,501.32 L923.66,496.01 L917.72,490.60 L911.73,485.09 L905.69,479.48 L899.60,473.75 L893.45,467.92 L887.26,461.97 L881.00,455.89 L874.69,449.70 L868.32,443.37 L861.90,436.90 L855.41,430.29 L848.86,423.52 L842.25,416.60 L835.57,409.52 L828.83,402.26 L822.02,394.83 L815.14,387.20 L808.19,379.37 L801.17,371.33 L794.07,363.06 L786.90,354.56 L779.65,345.81 L772.32,336.80 L764.91,327.50 L757.41,317.91 L749.83,307.99 L742.16,297.73 L734.41,287.11 L726.56,276.09 L718.62,264.65 L710.59,252.76 L702.47,240.37 L694.25,227.43 L685.94,213.92 L677.53,199.76 L669.03,184.89 L660.44,169.24 L651.77,152.72 L643.02,135.23 L634.20,116.65 L625.33,96.83 L616.42,75.59 L607.51,52.73M1348.82,752.73 L1344.83,750.46 L1340.83,748.17 L1336.81,745.86 L1332.77,743.54 L1328.71,741.19 L1324.64,738.83 L1320.55,736.45 L1316.44,734.05 L1312.31,731.63 L1308.16,729.19 L1304.00,726.73 L1299.82,724.25 L1295.61,721.75 L1291.39,719.23 L1287.15,716.68 L1282.89,714.12 L1278.61,711.53 L1274.31,708.92 L1269.98,706.28 L1265.64,703.63 L1261.28,700.94 L1256.89,698.24 L1252.49,695.51 L1248.06,692.75 L1243.61,689.97 L1239.13,687.16 L1234.64,684.33 L1230.12,681.47 L1225.58,678.58 L1221.01,675.66 L1216.42,672.71 L1211.81,669.74 L1207.17,666.73 L1202.50,663.69 L1197.82,660.62 L1193.10,657.52 L1188.36,654.39 L1183.59,651.23 L1178.80,648.03 L1173.98,644.79 L1169.13,641.52 L1164.25,638.21 L1159.35,634.87 L1154.41,631.49 L1149.45,628.07 L1144.46,624.61 L1139.43,621.10 L1134.38,617.56 L1129.30,613.98 L1124.18,610.35 L1119.03,606.67 L1113.85,602.95 L1108.63,599.19 L1103.39,595.37 L1098.10,591.50 L1092.79,587.59 L1087.43,583.62 L1082.04,579.60 L1076.62,575.52 L1071.15,571.39 L1065.65,567.20 L1060.11,562.95 L1054.53,558.63 L1048.91,554.26 L1043.25,549.82 L1037.54,545.31 L1031.80,540.73 L1026.01,536.08 L1020.18,531.36 L1014.30,526.56 L1008.37,521.68 L1002.40,516.72 L996.38,511.67 L990.31,506.54 L984.19,501.32 L978.02,496.01 L971.80,490.60 L965.53,485.09 L959.20,479.48 L952.81,473.75 L946.37,467.92 L939.87,461.97 L933.31,455.89 L926.69,449.70 L920.01,443.37 L913.26,436.90 L906.45,430.29 L899.57,423.52 L892.62,416.60 L885.61,409.52 L878.52,402.26 L871.35,394.83 L864.11,387.20 L856.80,379.37 L849.40,371.33 L841.92,363.06 L834.36,354.56 L826.71,345.81 L818.98,336.80 L811.15,327.50 L803.23,317.91 L795.22,307.99 L787.11,297.73 L778.89,287.11 L770.58,276.09 L762.16,264.65 L753.64,252.76 L745.00,240.37 L736.26,227.43 L727.41,213.92 L718.44,199.76 L709.36,184.89 L700.17,169.24 L690.87,152.72 L681.47,135.23 L671.97,116.65 L662.39,96.83 L652.73,75.59 L643.03,52.73" stroke="#808080" stroke-opacity="0.7" stroke-width="1.11" fill="none"/>
<path d="M232.85,752.73 L231.82,750.46 L230.77,748.17 L229.71,745.86 L228.64,743.54 L227.55,741.19 L226.44,738.83 L225.33,736.45 L224.19,734.05 L223.04,731.63 L221.88,729.19 L220.71,726.73 L219.51,724.25 L218.31,721.75 L217.09,719.23 L215.85,716.68 L214.60,714.12 L213.34,711.53 L212.06,708.92 L210.77,706.28 L209.46,703.63 L208.14,700.94 L206.80,698.24 L205.45,695.51 L204.09,692.75 L202.71,689.97 L201.32,687.16 L199.91,684.33 L198.49,681.47 L197.06,678.58 L195.61,675.66 L194.16,672.71 L192.68,669.74 L191.20,666.73 L189.70,663.69 L188.19,660.62 L186.67,657.52 L185.14,654.39 L183.59,651.23 L182.03,648.03 L180.46,644.79 L178.88,641.52 L177.29,638.21 L175.69,634.87 L174.08,631.49 L172.46,628.07 L170.83,624.61 L169.18,621.10 L167.53,617.56 L165.87,613.98 L164.20,610.35 L162.53,606.67 L160.84,602.95 L159.15,599.19 L157.45,595.37 L155.74,591.50 L154.03,587.59 L152.30,583.62 L150.58,579.60 L148.84,575.52 L147.10,571.39 L145.36,567.20 L143.61,562.95 L141.86,558.63 L140.10,554.26 L138.34,549.82 L136.58,545.31 L134.81,540.73 L133.05,536.08 L131.28,531.36 L129.51,526.56 L127.74,521.68 L125.96,516.72 L124.19,511.67 L122.43,506.54 L120.66,501.32 L118.90,496.01 L117.13,490.60 L115.38,485.09 L113.63,479.48 L111.88,473.75 L110.14,467.92 L108.41,461.97 L106.69,455.89 L104.98,449.70 L103.27,443.37 L101.59,436.90 L99.91,430.29 L98.25,423.52 L96.61,416.60 L94.99,409.52 L93.39,402.26 L91.81,394.83 L90.26,387.20 L88.74,379.37 L87.25,371.33 L85.79,363.06 L84.37,354.56 L83.00,345.81 L81.67,336.80 L80.39,327.50 L79.17,317.91 L78.01,307.99 L76.93,297.73 L75.92,287.11 L75.00,276.09 L74.18,264.65 L73.46,252.76 L72.87,240.37 L72.42,227.43 L72.12,213.92 L72.00,199.76 L72.08,184.89 L72.39,169.24 L72.97,152.72 L73.85,135.23 L75.09,116.65 L76.75,96.83 L78.91,75.59 L81.67,52.73M299.77,752.73 L299.01,750.46 L298.24,748.17 L297.44,745.86 L296.64,743.54 L295.81,741.19 L294.96,738.83 L294.10,736.45 L293.22,734.05 L292.33,731.63 L291.41,729.19 L290.48,726.73 L289.52,724.25 L288.55,721.75 L287.56,719.23 L286.55,716.68 L285.52,714.12 L284.47,711.53 L283.40,708.92 L282.31,706.28 L281.20,703.63 L280.07,700.94 L278.92,698.24 L277.74,695.51 L276.55,692.75 L275.33,689.97 L274.10,687.16 L272.84,684.33 L271.56,681.47 L270.25,678.58 L268.93,675.66 L267.59,672.71 L266.22,669.74 L264.83,666.73 L263.42,663.69 L261.99,660.62 L260.53,657.52 L259.05,654.39 L257.56,651.23 L256.04,648.03 L254.50,644.79 L252.93,641.52 L251.35,638.21 L249.75,634.87 L248.12,631.49 L246.48,628.07 L244.81,624.61 L243.12,621.10 L241.42,617.56 L239.69,613.98 L237.95,610.35 L236.18,606.67 L234.40,602.95 L232.60,599.19 L230.78,595.37 L228.95,591.50 L227.10,587.59 L225.23,583.62 L223.34,579.60 L221.44,575.52 L219.52,571.39 L217.59,567.20 L215.65,562.95 L213.69,558.63 L211.72,554.26 L209.74,549.82 L207.74,545.31 L205.73,540.73 L203.72,536.08 L201.69,531.36 L199.65,526.56 L197.61,521.68 L195.55,516.72 L193.49,511.67 L191.42,506.54 L189.35,501.32 L187.27,496.01 L185.19,490.60 L183.10,485.09 L181.01,479.48 L178.92,473.75 L176.82,467.92 L174.73,461.97 L172.64,455.89 L170.55,449.70 L168.47,443.37 L166.39,436.90 L164.31,430.29 L162.25,423.52 L160.19,416.60 L158.14,409.52 L156.11,402.26 L154.09,394.83 L152.09,387.20 L150.11,379.37 L148.15,371.33 L146.21,363.06 L144.31,354.56 L142.43,345.81 L140.59,336.80 L138.79,327.50 L137.04,317.91 L135.33,307.99 L133.69,297.73 L132.10,287.11 L130.59,276.09 L129.16,264.65 L127.83,252.76 L126.59,240.37 L125.48,227.43 L124.49,213.92 L123.67,199.76 L123.01,184.89 L122.57,169.24 L122.35,152.72 L122.41,135.23 L122.80,116.65 L123.56,96.83 L124.78,75.59 L126.54,52.73M365.91,752.73 L365.54,750.46 L365.15,748.17 L364.74,745.86 L364.33,743.54 L363.89,741.19 L363.45,738.83 L362.99,736.45 L362.51,734.05 L362.02,731.63 L361.51,729.19 L360.98,726.73 L360.44,724.25 L359.88,721.75 L359.30,719.23 L358.70,716.68 L358.09,714.12 L357.45,711.53 L356.79,708.92 L356.12,706.28 L355.42,703.63 L354.70,700.94 L353.96,698.24 L353.20,695.51 L352.42,692.75 L351.61,689.97 L350.77,687.16 L349.92,684.33 L349.03,681.47 L348.12,678.58 L347.19,675.66 L346.23,672.71 L345.24,669.74 L344.22,666.73 L343.18,663.69 L342.11,660.62 L341.00,657.52 L339.87,654.39 L338.71,651.23 L337.51,648.03 L336.29,644.79 L335.03,641.52 L333.74,638.21 L332.42,634.87 L331.06,631.49 L329.68,628.07 L328.25,624.61 L326.80,621.10 L325.31,617.56 L323.79,613.98 L322.23,610.35 L320.63,606.67 L319.01,602.95 L317.34,599.19 L315.64,595.37 L313.91,591.50 L312.14,587.59 L310.34,583.62 L308.51,579.60 L306.64,575.52 L304.73,571.39 L302.79,567.20 L300.82,562.95 L298.82,558.63 L296.78,554.26 L294.72,549.82 L292.62,545.31 L290.49,540.73 L288.33,536.08 L286.14,531.36 L283.93,526.56 L281.69,521.68 L279.42,516.72 L277.13,511.67 L274.81,506.54 L272.47,501.32 L270.10,496.01 L267.72,490.60 L265.31,485.09 L262.89,479.48 L260.45,473.75 L257.99,467.92 L255.52,461.97 L253.04,455.89 L250.54,449.70 L248.03,443.37 L245.51,436.90 L242.98,430.29 L240.45,423.52 L237.91,416.60 L235.38,409.52 L232.84,402.26 L230.30,394.83 L227.76,387.20 L225.23,379.37 L222.71,371.33 L220.20,363.06 L217.70,354.56 L215.22,345.81 L212.77,336.80 L210.33,327.50 L207.93,317.91 L205.56,307.99 L203.22,297.73 L200.94,287.11 L198.71,276.09 L196.53,264.65 L194.43,252.76 L192.41,240.37 L190.48,227.43 L188.67,213.92 L186.97,199.76 L185.42,184.89 L184.04,169.24 L182.86,152.72 L181.92,135.23 L181.25,116.65 L180.91,96.83 L180.97,75.59 L181.51,52.73M431.81,752.73 L431.85,750.46 L431.88,748.17 L431.90,745.86 L431.91,743.54 L431.92,741.19 L431.92,738.83 L431.91,736.45 L431.89,734.05 L431.86,731.63 L431.83,729.19 L431.78,726.73 L431.73,724.25 L431.67,721.75 L431.59,719.23 L431.51,716.68 L431.41,714.12 L431.30,711.53 L431.18,708.92 L431.05,706.28 L430.90,703.63 L430.74,700.94 L430.57,698.24 L430.38,695.51 L430.17,692.75 L429.95,689.97 L429.72,687.16 L429.47,684.33 L429.20,681.47 L428.91,678.58 L428.60,675.66 L428.27,672.71 L427.93,669.74 L427.56,666.73 L427.17,663.69 L426.76,660.62 L426.32,657.52 L425.86,654.39 L425.37,651.23 L424.86,648.03 L424.32,644.79 L423.75,641.52 L423.15,638.21 L422.53,634.87 L421.87,631.49 L421.17,628.07 L420.45,624.61 L419.69,621.10 L418.89,617.56 L418.05,613.98 L417.18,610.35 L416.27,606.67 L415.31,602.95 L414.31,599.19 L413.27,595.37 L412.18,591.50 L411.05,587.59 L409.86,583.62 L408.63,579.60 L407.35,575.52 L406.02,571.39 L404.63,567.20 L403.18,562.95 L401.69,558.63 L400.13,554.26 L398.52,549.82 L396.84,545.31 L395.11,540.73 L393.32,536.08 L391.46,531.36 L389.55,526.56 L387.57,521.68 L385.52,516.72 L383.42,511.67 L381.25,506.54 L379.02,501.32 L376.72,496.01 L374.37,490.60 L371.95,485.09 L369.47,479.48 L366.94,473.75 L364.34,467.92 L361.69,461.97 L358.99,455.89 L356.23,449.70 L353.42,443.37 L350.56,436.90 L347.65,430.29 L344.70,423.52 L341.71,416.60 L338.67,409.52 L335.61,402.26 L332.50,394.83 L329.37,387.20 L326.21,379.37 L323.03,371.33 L319.83,363.06 L316.61,354.56 L313.38,345.81 L310.13,336.80 L306.89,327.50 L303.64,317.91 L300.40,307.99 L297.17,297.73 L293.96,287.11 L290.76,276.09 L287.60,264.65 L284.48,252.76 L281.40,240.37 L278.39,227.43 L275.44,213.92 L272.58,199.76 L269.82,184.89 L267.18,169.24 L264.70,152.72 L262.39,135.23 L260.30,116.65 L258.47,96.83 L256.97,75.59 L255.86,52.73M498.03,752.73 L498.42,750.46 L498.82,748.17 L499.22,745.86 L499.61,743.54 L500.01,741.19 L500.40,738.83 L500.79,736.45 L501.19,734.05 L501.58,731.63 L501.97,729.19 L502.36,726.73 L502.75,724.25 L503.14,721.75 L503.52,719.23 L503.90,716.68 L504.29,714.12 L504.67,711.53 L505.04,708.92 L505.42,706.28 L505.79,703.63 L506.16,700.94 L506.53,698.24 L506.90,695.51 L507.26,692.75 L507.61,689.97 L507.97,687.16 L508.32,684.33 L508.66,681.47 L509.00,678.58 L509.34,675.66 L509.67,672.71 L509.99,669.74 L510.31,666.73 L510.62,663.69 L510.92,660.62 L511.22,657.52 L511.51,654.39 L511.79,651.23 L512.06,648.03 L512.32,644.79 L512.57,641.52 L512.81,638.21 L513.04,634.87 L513.26,631.49 L513.46,628.07 L513.65,624.61 L513.83,621.10 L513.99,617.56 L514.13,613.98 L514.26,610.35 L514.37,606.67 L514.46,602.95 L514.52,599.19 L514.57,595.37 L514.59,591.50 L514.59,587.59 L514.57,583.62 L514.51,579.60 L514.42,575.52 L514.31,571.39 L514.16,567.20 L513.97,562.95 L513.75,558.63 L513.49,554.26 L513.19,549.82 L512.84,545.31 L512.44,540.73 L511.99,536.08 L511.49,531.36 L510.94,526.56 L510.32,521.68 L509.64,516.72 L508.90,511.67 L508.08,506.54 L507.19,501.32 L506.21,496.01 L505.16,490.60 L504.02,485.09 L502.78,479.48 L501.45,473.75 L500.01,467.92 L498.47,461.97 L496.82,455.89 L495.05,449.70 L493.16,443.37 L491.14,436.90 L489.00,430.29 L486.72,423.52 L484.31,416.60 L481.76,409.52 L479.07,402.26 L476.23,394.83 L473.26,387.20 L470.14,379.37 L466.88,371.33 L463.49,363.06 L459.96,354.56 L456.30,345.81 L452.52,336.80 L448.62,327.50 L444.61,317.91 L440.50,307.99 L436.29,297.73 L432.01,287.11 L427.65,276.09 L423.23,264.65 L418.76,252.76 L414.25,240.37 L409.71,227.43 L405.17,213.92 L400.63,199.76 L396.11,184.89 L391.63,169.24 L387.21,152.72 L382.89,135.23 L378.68,116.65 L374.63,96.83 L370.79,75.59 L367.21,52.73M564.84,752.73 L565.51,750.46 L566.18,748.17 L566.86,745.86 L567.54,743.54 L568.22,741.19 L568.91,738.83 L569.60,736.45 L570.30,734.05 L571.00,731.63 L571.71,729.19 L572.42,726.73 L573.14,724.25 L573.86,721.75 L574.59,719.23 L575.32,716.68 L576.06,714.12 L576.80,711.53 L577.55,708.92 L578.30,706.28 L579.05,703.63 L579.82,700.94 L580.58,698.24 L581.35,695.51 L582.13,692.75 L582.92,689.97 L583.70,687.16 L584.50,684.33 L585.30,681.47 L586.10,678.58 L586.91,675.66 L587.73,672.71 L588.55,669.74 L589.38,666.73 L590.21,663.69 L591.04,660.62 L591.89,657.52 L592.74,654.39 L593.59,651.23 L594.45,648.03 L595.32,644.79 L596.19,641.52 L597.06,638.21 L597.95,634.87 L598.83,631.49 L599.73,628.07 L600.62,624.61 L601.53,621.10 L602.44,617.56 L603.35,613.98 L604.27,610.35 L605.20,606.67 L606.13,602.95 L607.06,599.19 L608.00,595.37 L608.94,591.50 L609.89,587.59 L610.84,583.62 L611.79,579.60 L612.75,575.52 L613.71,571.39 L614.67,567.20 L615.64,562.95 L616.61,558.63 L617.58,554.26 L618.55,549.82 L619.52,545.31 L620.49,540.73 L621.46,536.08 L622.42,531.36 L623.39,526.56 L624.35,521.68 L625.30,516.72 L626.25,511.67 L627.19,506.54 L628.12,501.32 L629.05,496.01 L629.96,490.60 L630.85,485.09 L631.73,479.48 L632.59,473.75 L633.42,467.92 L634.23,461.97 L635.01,455.89 L635.76,449.70 L636.47,443.37 L637.14,436.90 L637.76,430.29 L638.33,423.52 L638.84,416.60 L639.27,409.52 L639.63,402.26 L639.91,394.83 L640.08,387.20 L640.15,379.37 L640.09,371.33 L639.90,363.06 L639.54,354.56 L639.02,345.81 L638.29,336.80 L637.35,327.50 L636.17,317.91 L634.72,307.99 L632.96,297.73 L630.88,287.11 L628.45,276.09 L625.62,264.65 L622.38,252.76 L618.70,240.37 L614.57,227.43 L609.97,213.92 L604.91,199.76 L599.39,184.89 L593.45,169.24 L587.11,152.72 L580.43,135.23 L573.46,116.65 L566.26,96.83 L558.92,75.59 L551.49,52.73M632.27,752.73 L633.12,750.46 L633.97,748.17 L634.83,745.86 L635.69,743.54 L636.57,741.19 L637.45,738.83 L638.34,736.45 L639.23,734.05 L640.14,731.63 L641.05,729.19 L641.97,726.73 L642.90,724.25 L643.83,721.75 L644.78,719.23 L645.73,716.68 L646.69,714.12 L647.66,711.53 L648.64,708.92 L649.63,706.28 L650.63,703.63 L651.64,700.94 L652.66,698.24 L653.69,695.51 L654.72,692.75 L655.77,689.97 L656.83,687.16 L657.90,684.33 L658.98,681.47 L660.07,678.58 L661.17,675.66 L662.28,672.71 L663.41,669.74 L664.54,666.73 L665.69,663.69 L666.85,660.62 L668.03,657.52 L669.21,654.39 L670.41,651.23 L671.62,648.03 L672.85,644.79 L674.09,641.52 L675.34,638.21 L676.61,634.87 L677.89,631.49 L679.19,628.07 L680.50,624.61 L681.83,621.10 L683.17,617.56 L684.53,613.98 L685.91,610.35 L687.30,606.67 L688.71,602.95 L690.14,599.19 L691.59,595.37 L693.06,591.50 L694.54,587.59 L696.04,583.62 L697.57,579.60 L699.11,575.52 L700.68,571.39 L702.27,567.20 L703.87,562.95 L705.51,558.63 L707.16,554.26 L708.84,549.82 L710.54,545.31 L712.26,540.73 L714.02,536.08 L715.80,531.36 L717.60,526.56 L719.43,521.68 L721.30,516.72 L723.19,511.67 L725.11,506.54 L727.06,501.32 L729.04,496.01 L731.06,490.60 L733.10,485.09 L735.19,479.48 L737.30,473.75 L739.46,467.92 L741.65,461.97 L743.88,455.89 L746.14,449.70 L748.45,443.37 L750.80,436.90 L753.20,430.29 L755.63,423.52 L758.11,416.60 L760.64,409.52 L763.22,402.26 L765.84,394.83 L768.52,387.20 L771.24,379.37 L774.02,371.33 L776.85,363.06 L779.73,354.56 L782.66,345.81 L785.65,336.80 L788.70,327.50 L791.80,317.91 L794.95,307.99 L798.15,297.73 L801.40,287.11 L804.69,276.09 L808.02,264.65 L811.38,252.76 L814.76,240.37 L818.14,227.43 L821.50,213.92 L824.82,199.76 L828.06,184.89 L831.17,169.24 L834.08,152.72 L836.71,135.23 L838.93,116.65 L840.58,96.83 L841.43,75.59 L841.19,52.73" stroke="#0000ff" stroke-opacity="0.5" stroke-width="1.39" stroke-dasharray="5.14 2.22" fill="none"/>
<path d="M331.06,531.86 L325.99,538.47 L321.04,544.93 L316.19,551.26 L311.45,557.46 L306.81,563.53 L302.27,569.47 L297.81,575.31 L293.45,581.03 L289.17,586.64 L284.97,592.15 L280.85,597.56 L276.80,602.87 L272.83,608.09 L268.93,613.22 L265.10,618.26 L261.33,623.22 L257.62,628.09 L253.98,632.89 L250.40,637.61 L246.88,642.26 L243.41,646.84 L239.99,651.35 L236.63,655.79 L233.32,660.16 L230.06,664.47 L226.84,668.72 L223.68,672.91 L220.55,677.04 L217.48,681.12 L214.44,685.14 L211.45,689.11 L208.50,693.02 L205.58,696.89 L202.71,700.70 L199.87,704.47 L197.07,708.19 L194.31,711.86 L191.58,715.49 L188.88,719.07 L186.22,722.62 L183.59,726.12 L180.99,729.58 L178.42,733.00 L175.88,736.38 L173.38,739.72 L170.90,743.03 L168.45,746.30 L166.02,749.53 L163.62,752.73M397.57,531.86 L392.65,538.47 L387.84,544.93 L383.14,551.26 L378.54,557.46 L374.03,563.53 L369.62,569.47 L365.30,575.31 L361.06,581.03 L356.91,586.64 L352.84,592.15 L348.84,597.56 L344.92,602.87 L341.07,608.09 L337.28,613.22 L333.57,618.26 L329.91,623.22 L326.32,628.09 L322.79,632.89 L319.32,637.61 L315.91,642.26 L312.54,646.84 L309.23,651.35 L305.98,655.79 L302.77,660.16 L299.61,664.47 L296.50,668.72 L293.43,672.91 L290.41,677.04 L287.43,681.12 L284.49,685.14 L281.59,689.11 L278.73,693.02 L275.91,696.89 L273.13,700.70 L270.38,704.47 L267.67,708.19 L265.00,711.86 L262.36,715.49 L259.75,719.07 L257.17,722.62 L254.63,726.12 L252.11,729.58 L249.63,733.00 L247.18,736.38 L244.75,739.72 L242.35,743.03 L239.98,746.30 L237.64,749.53 L235.32,752.73M452.07,531.86 L447.27,538.47 L442.59,544.93 L438.01,551.26 L433.52,557.46 L429.13,563.53 L424.84,569.47 L420.63,575.31 L416.50,581.03 L412.46,586.64 L408.49,592.15 L404.60,597.56 L400.78,602.87 L397.04,608.09 L393.35,613.22 L389.74,618.26 L386.18,623.22 L382.69,628.09 L379.26,632.89 L375.88,637.61 L372.55,642.26 L369.29,646.84 L366.07,651.35 L362.90,655.79 L359.78,660.16 L356.71,664.47 L353.68,668.72 L350.70,672.91 L347.76,677.04 L344.86,681.12 L342.01,685.14 L339.19,689.11 L336.41,693.02 L333.67,696.89 L330.97,700.70 L328.30,704.47 L325.67,708.19 L323.07,711.86 L320.50,715.49 L317.97,719.07 L315.47,722.62 L313.00,726.12 L310.56,729.58 L308.14,733.00 L305.76,736.38 L303.41,739.72 L301.08,743.03 L298.78,746.30 L296.50,749.53 L294.25,752.73M510.54,531.86 L505.89,538.47 L501.34,544.93 L496.89,551.26 L492.54,557.46 L488.28,563.53 L484.11,569.47 L480.03,575.31 L476.03,581.03 L472.10,586.64 L468.26,592.15 L464.49,597.56 L460.78,602.87 L457.15,608.09 L453.58,613.22 L450.07,618.26 L446.63,623.22 L443.24,628.09 L439.92,632.89 L436.64,637.61 L433.42,642.26 L430.26,646.84 L427.14,651.35 L424.07,655.79 L421.05,660.16 L418.08,664.47 L415.15,668.72 L412.26,672.91 L409.41,677.04 L406.61,681.12 L403.85,685.14 L401.12,689.11 L398.43,693.02 L395.78,696.89 L393.17,700.70 L390.59,704.47 L388.04,708.19 L385.53,711.86 L383.04,715.49 L380.59,719.07 L378.18,722.62 L375.79,726.12 L373.43,729.58 L371.09,733.00 L368.79,736.38 L366.51,739.72 L364.26,743.03 L362.04,746.30 L359.84,749.53 L357.67,752.73M560.86,531.86 L556.33,538.47 L551.90,544.93 L547.57,551.26 L543.34,557.46 L539.20,563.53 L535.14,569.47 L531.17,575.31 L527.28,581.03 L523.46,586.64 L519.73,592.15 L516.06,597.56 L512.46,602.87 L508.93,608.09 L505.46,613.22 L502.05,618.26 L498.70,623.22 L495.41,628.09 L492.18,632.89 L489.00,637.61 L485.88,642.26 L482.80,646.84 L479.77,651.35 L476.80,655.79 L473.86,660.16 L470.97,664.47 L468.13,668.72 L465.33,672.91 L462.57,677.04 L459.85,681.12 L457.16,685.14 L454.52,689.11 L451.91,693.02 L449.34,696.89 L446.80,700.70 L444.30,704.47 L441.83,708.19 L439.39,711.86 L436.99,715.49 L434.61,719.07 L432.27,722.62 L429.95,726.12 L427.66,729.58 L425.40,733.00 L423.17,736.38 L420.97,739.72 L418.79,743.03 L416.63,746.30 L414.50,749.53 L412.40,752.73M594.43,531.86 L589.99,538.47 L585.65,544.93 L581.40,551.26 L577.25,557.46 L573.18,563.53 L569.21,569.47 L565.31,575.31 L561.50,581.03 L557.76,586.64 L554.09,592.15 L550.49,597.56 L546.96,602.87 L543.50,608.09 L540.10,613.22 L536.76,618.26 L533.48,623.22 L530.26,628.09 L527.09,632.89 L523.98,637.61 L520.92,642.26 L517.90,646.84 L514.94,651.35 L512.02,655.79 L509.15,660.16 L506.32,664.47 L503.53,668.72 L500.79,672.91 L498.09,677.04 L495.42,681.12 L492.80,685.14 L490.21,689.11 L487.66,693.02 L485.14,696.89 L482.66,700.70 L480.21,704.47 L477.79,708.19 L475.41,711.86 L473.05,715.49 L470.73,719.07 L468.43,722.62 L466.17,726.12 L463.93,729.58 L461.72,733.00 L459.53,736.38 L457.38,739.72 L455.24,743.03 L453.14,746.30 L451.06,749.53 L449.00,752.73M640.48,531.86 L636.16,538.47 L631.93,544.93 L627.80,551.26 L623.76,557.46 L619.81,563.53 L615.94,569.47 L612.15,575.31 L608.44,581.03 L604.81,586.64 L601.24,592.15 L597.75,597.56 L594.32,602.87 L590.95,608.09 L587.65,613.22 L584.41,618.26 L581.22,623.22 L578.09,628.09 L575.02,632.89 L571.99,637.61 L569.02,642.26 L566.09,646.84 L563.22,651.35 L560.38,655.79 L557.60,660.16 L554.85,664.47 L552.15,668.72 L549.49,672.91 L546.87,677.04 L544.28,681.12 L541.74,685.14 L539.23,689.11 L536.75,693.02 L534.31,696.89 L531.90,700.70 L529.53,704.47 L527.19,708.19 L524.88,711.86 L522.59,715.49 L520.34,719.07 L518.12,722.62 L515.92,726.12 L513.76,729.58 L511.61,733.00 L509.50,736.38 L507.41,739.72 L505.35,743.03 L503.31,746.30 L501.29,749.53 L499.30,752.73M681.80,531.86 L677.59,538.47 L673.47,544.93 L669.44,551.26 L665.51,557.46 L661.66,563.53 L657.89,569.47 L654.20,575.31 L650.59,581.03 L647.05,586.64 L643.58,592.15 L640.18,597.56 L636.84,602.87 L633.57,608.09 L630.35,613.22 L627.20,618.26 L624.10,623.22 L621.06,628.09 L618.06,632.89 L615.12,637.61 L612.23,642.26 L609.39,646.84 L606.59,651.35 L603.84,655.79 L601.13,660.16 L598.46,664.47 L595.84,668.72 L593.25,672.91 L590.70,677.04 L588.19,681.12 L585.72,685.14 L583.28,689.11 L580.88,693.02 L578.51,696.89 L576.17,700.70 L573.87,704.47 L571.59,708.19 L569.35,711.86 L567.13,715.49 L564.95,719.07 L562.79,722.62 L560.66,726.12 L558.56,729.58 L556.48,733.00 L554.43,736.38 L552.40,739.72 L550.40,743.03 L548.42,746.30 L546.47,749.53 L544.53,752.73M711.94,531.86 L707.81,538.47 L703.77,544.93 L699.83,551.26 L695.97,557.46 L692.19,563.53 L688.50,569.47 L684.89,575.31 L681.35,581.03 L677.88,586.64 L674.48,592.15 L671.15,597.56 L667.88,602.87 L664.67,608.09 L661.52,613.22 L658.43,618.26 L655.40,623.22 L652.42,628.09 L649.49,632.89 L646.61,637.61 L643.78,642.26 L641.00,646.84 L638.26,651.35 L635.57,655.79 L632.92,660.16 L630.31,664.47 L627.74,668.72 L625.21,672.91 L622.72,677.04 L620.26,681.12 L617.84,685.14 L615.46,689.11 L613.11,693.02 L610.79,696.89 L608.51,700.70 L606.25,704.47 L604.03,708.19 L601.84,711.86 L599.67,715.49 L597.54,719.07 L595.43,722.62 L593.35,726.12 L591.29,729.58 L589.26,733.00 L587.26,736.38 L585.28,739.72 L583.32,743.03 L581.39,746.30 L579.48,749.53 L577.60,752.73" stroke="#8c5a30" stroke-width="2.08" stroke-dasharray="2.08 3.43" fill="none"/>
<path d="M348.80,752.73L1048.80,52.73" stroke="#000" stroke-width="1.5" fill="none"/>
<path d="M626.30,53.70 L612.90,67.50 L589.10,92.80 L577.90,103.20 L563.80,124.10 L554.90,138.20 L544.70,153.40 L539.40,163.00 L522.10,194.20 L513.40,208.10 L490.80,238.50 L482.20,251.50 L476.90,263.40 L470.40,292.10 L463.90,331.20 L462.60,352.00 L461.30,361.20 L450.80,384.60 L449.50,398.90 L458.70,426.30 L462.60,450.00 L467.40,463.20 L476.90,486.40 L483.20,500.10 L484.30,516.00 L482.80,532.80 L483.90,545.50 L483.20,560.30 L481.80,586.20 L481.10,610.00 L480.00,618.60 L478.20,632.60 L474.40,655.80 L471.60,671.70 L471.60,677.20 L463.30,684.70 L464.20,693.10 L467.00,701.40 L468.80,709.80 L474.40,715.40 L484.00,729.30 L490.20,737.50 L493.20,741.00 L495.20,742.30 L496.60,742.80" stroke="#ff0000" stroke-width="2.78" stroke-linejoin="round" stroke-linecap="round" fill="none"/>
<path d="M483.50,53.60 L480.00,64.60 L470.50,85.00 L459.60,104.10 L448.70,124.60 L437.70,149.20 L430.40,168.80 L403.60,210.50 L399.60,223.40 L394.60,243.30 L392.70,252.90 L375.80,281.10 L362.80,299.00 L357.50,307.90 L343.60,321.80 L338.60,334.70 L323.70,347.60 L297.90,360.50 L302.80,372.50 L315.80,383.40 L335.60,399.30 L339.60,413.20 L319.70,437.40 L338.40,450.00 L330.80,462.50 L295.00,475.00 L287.50,486.70 L253.30,497.50 L225.80,510.00 L240.80,521.70 L270.00,533.30 L274.20,545.00 L261.70,556.70 L261.10,567.80 L272.20,579.60 L308.90,590.00 L327.80,601.10 L338.90,613.30 L351.10,623.30 L370.00,633.30 L392.20,642.70 L421.20,652.00 L409.60,660.50 L389.80,668.90 L389.10,676.90 L418.50,684.00 L434.80,691.90 L420.60,705.20 L430.50,711.30 L425.80,715.00 L423.20,717.40 L421.50,721.00 L419.30,725.90 L416.30,734.50 L415.90,739.70 L417.20,741.90 L419.30,743.00" stroke="#0000ff" stroke-width="2.78" stroke-linejoin="round" stroke-linecap="round" fill="none"/>
</g>
<path d="M74.5,53.5V753.5H657.5V53.5Z" stroke="#000" stroke-width="1.11" fill="none" stroke-linecap="square"/>
<path d="M69.64,53.50H74.50M69.64,173.50H74.50M69.64,259.50H74.50M69.64,326.50H74.50M69.64,380.50H74.50M69.64,426.50H74.50M69.64,465.50H74.50M69.64,500.50H74.50M69.64,532.50H74.50M69.64,560.50H74.50M69.64,586.50H74.50M69.64,610.50H74.50M69.64,632.50H74.50M69.64,653.50H74.50M69.64,672.50H74.50M69.64,690.50H74.50M69.64,707.50H74.50M69.64,723.50H74.50M69.64,738.50H74.50M69.64,753.50H74.50M657.50,53.50H662.36M657.50,173.50H662.36M657.50,259.50H662.36M657.50,326.50H662.36M657.50,380.50H662.36M657.50,465.50H662.36M657.50,532.50H662.36M657.50,632.50H662.36M657.50,690.50H662.36M657.50,715.50H662.36M657.50,738.50H662.36M74.50,753.50V758.36M143.50,753.50V758.36M212.50,753.50V758.36M280.50,753.50V758.36M349.50,753.50V758.36M417.50,753.50V758.36M486.50,753.50V758.36M555.50,753.50V758.36M623.50,753.50V758.36" stroke="#000" stroke-width="1.11" fill="none"/>
<text x="39.35" y="58.43" font-size="14.31" fill="#000" textLength="24.93" lengthAdjust="spacingAndGlyphs">100</text>
<text x="39.35" y="179.14" font-size="14.31" fill="#000" textLength="24.93" lengthAdjust="spacingAndGlyphs">150</text>
<text x="39.35" y="264.78" font-size="14.31" fill="#000" textLength="24.93" lengthAdjust="spacingAndGlyphs">200</text>
<text x="39.35" y="331.21" font-size="14.31" fill="#000" textLength="24.93" lengthAdjust="spacingAndGlyphs">250</text>
<text x="39.35" y="385.48" font-size="14.31" fill="#000" textLength="24.93" lengthAdjust="spacingAndGlyphs">300</text>
<text x="39.35" y="431.38" font-size="14.31" fill="#000" textLength="24.93" lengthAdjust="spacingAndGlyphs">350</text>
<text x="39.35" y="471.13" font-size="14.31" fill="#000" textLength="24.93" lengthAdjust="spacingAndGlyphs">400</text>
<text x="39.35" y="506.19" font-size="14.31" fill="#000" textLength="24.93" lengthAdjust="spacingAndGlyphs">450</text>
<text x="39.35" y="537.56" font-size="14.31" fill="#000" textLength="24.93" lengthAdjust="spacingAndGlyphs">500</text>
<text x="39.35" y="565.93" font-size="14.31" fill="#000" textLength="24.93" lengthAdjust="spacingAndGlyphs">550</text>
<text x="39.35" y="591.83" font-size="14.31" fill="#000" textLength="24.93" lengthAdjust="spacingAndGlyphs">600</text>
<text x="39.35" y="615.66" font-size="14.31" fill="#000" textLength="24.93" lengthAdjust="spacingAndGlyphs">650</text>
<text x="39.35" y="637.72" font-size="14.31" fill="#000" textLength="24.93" lengthAdjust="spacingAndGlyphs">700</text>
<text x="39.35" y="658.26" font-size="14.31" fill="#000" textLength="24.93" lengthAdjust="spacingAndGlyphs">750</text>
<text x="39.35" y="677.48" font-size="14.31" fill="#000" textLength="24.93" lengthAdjust="spacingAndGlyphs">800</text>
<text x="39.35" y="695.52" font-size="14.31" fill="#000" textLength="24.93" lengthAdjust="spacingAndGlyphs">850</text>
<text x="39.35" y="712.54" font-size="14.31" fill="#000" textLength="24.93" lengthAdjust="spacingAndGlyphs">900</text>
<text x="39.35" y="728.64" font-size="14.31" fill="#000" textLength="24.93" lengthAdjust="spacingAndGlyphs">950</text>
<text x="30.50" y="743.91" font-size="14.31" fill="#000" textLength="33.77" lengthAdjust="spacingAndGlyphs">1000</text>
<text x="30.50" y="758.43" font-size="14.31" fill="#000" textLength="33.77" lengthAdjust="spacingAndGlyphs">1050</text>
<text x="667.42" y="58.63" font-size="14.31" fill="#000" textLength="42.62" lengthAdjust="spacingAndGlyphs">16523</text>
<text x="667.42" y="179.34" font-size="14.31" fill="#000" textLength="42.62" lengthAdjust="spacingAndGlyphs">13999</text>
<text x="667.42" y="264.98" font-size="14.31" fill="#000" textLength="42.62" lengthAdjust="spacingAndGlyphs">12159</text>
<text x="667.42" y="331.41" font-size="14.31" fill="#000" textLength="42.62" lengthAdjust="spacingAndGlyphs">10692</text>
<text x="667.42" y="385.68" font-size="14.31" fill="#000" textLength="33.77" lengthAdjust="spacingAndGlyphs">9474</text>
<text x="667.42" y="471.33" font-size="14.31" fill="#000" textLength="33.77" lengthAdjust="spacingAndGlyphs">7431</text>
<text x="667.42" y="537.76" font-size="14.31" fill="#000" textLength="33.77" lengthAdjust="spacingAndGlyphs">5769</text>
<text x="667.42" y="637.92" font-size="14.31" fill="#000" textLength="33.77" lengthAdjust="spacingAndGlyphs">3131</text>
<text x="667.42" y="695.72" font-size="14.31" fill="#000" textLength="33.77" lengthAdjust="spacingAndGlyphs">1550</text>
<text x="667.42" y="720.90" font-size="14.31" fill="#000" textLength="24.93" lengthAdjust="spacingAndGlyphs">845</text>
<text x="667.42" y="744.11" font-size="14.31" fill="#000" textLength="24.93" lengthAdjust="spacingAndGlyphs">184</text>
<text x="60.59" y="773.80" font-size="14.31" fill="#000" textLength="27.73" lengthAdjust="spacingAndGlyphs">−40</text>
<text x="129.17" y="773.80" font-size="14.31" fill="#000" textLength="27.73" lengthAdjust="spacingAndGlyphs">−30</text>
<text x="197.76" y="773.80" font-size="14.31" fill="#000" textLength="27.73" lengthAdjust="spacingAndGlyphs">−20</text>
<text x="266.35" y="773.80" font-size="14.31" fill="#000" textLength="27.73" lengthAdjust="spacingAndGlyphs">−10</text>
<text x="345.18" y="773.80" font-size="14.31" fill="#000" textLength="7.24" lengthAdjust="spacingAndGlyphs">0</text>
<text x="409.35" y="773.80" font-size="14.31" fill="#000" textLength="16.09" lengthAdjust="spacingAndGlyphs">10</text>
<text x="477.94" y="773.80" font-size="14.31" fill="#000" textLength="16.09" lengthAdjust="spacingAndGlyphs">20</text>
<text x="546.52" y="773.80" font-size="14.31" fill="#000" textLength="16.09" lengthAdjust="spacingAndGlyphs">30</text>
<text x="615.11" y="773.80" font-size="14.31" fill="#000" textLength="16.09" lengthAdjust="spacingAndGlyphs">40</text>
<text x="129.67" y="23.90" font-size="17.84" fill="#000" textLength="472.66" lengthAdjust="spacingAndGlyphs">Прогноз T и Td на 15.09.25 - 15 час местного времени</text>
<text x="101.18" y="45.00" font-size="17.84" fill="#000" textLength="529.64" lengthAdjust="spacingAndGlyphs">Пункт Махачкала (37259) 43.00 с.ш. 47.50 в.д.; высота -19 м</text>
<text x="302.08" y="792.80" font-size="14.31" fill="#000" textLength="127.83" lengthAdjust="spacingAndGlyphs">Температура (°C)</text>
<text transform="translate(20.50,404.40) rotate(-90)" x="-56.18" y="0" font-size="14.31" fill="#000" textLength="112.36" lengthAdjust="spacingAndGlyphs">Давление (гПа)</text>
<text transform="translate(725.80,404.10) rotate(-90)" x="-47.69" y="0" font-size="14.31" fill="#000" textLength="95.38" lengthAdjust="spacingAndGlyphs">Высота (гпм)</text>
<path d="M756.50,75.60 L732.24,69.55 L731.63,59.09 L732.24,69.55 L735.27,70.31 L734.66,59.85 L735.27,70.31 L738.31,71.06 L738.00,65.83 L738.31,71.06 L756.50,75.60" stroke="#000" stroke-width="2.0" stroke-linejoin="round" fill="none"/>
<text x="797.50" y="76.60" font-size="14.31" fill="#808080" textLength="92.67" lengthAdjust="spacingAndGlyphs">284° (23 м/с)</text>
<path d="M756.50,173.44 L732.05,168.24 L731.07,157.81 L732.05,168.24 L735.10,168.89 L734.13,158.46 L735.10,168.89 L738.16,169.54 L737.18,159.11 L738.16,169.54 L741.22,170.19 L740.73,164.97 L741.22,170.19 L756.50,173.44" stroke="#000" stroke-width="2.0" stroke-linejoin="round" fill="none"/>
<text x="797.50" y="174.44" font-size="14.31" fill="#808080" textLength="92.67" lengthAdjust="spacingAndGlyphs">282° (34 м/с)</text>
<path d="M756.50,259.08 L731.96,254.31 L730.80,243.90 L731.96,254.31 L735.03,254.90 L733.87,244.49 L735.03,254.90 L738.09,255.50 L736.93,245.09 L738.09,255.50 L741.16,256.10 L740.58,250.89 L741.16,256.10 L756.50,259.08" stroke="#000" stroke-width="2.0" stroke-linejoin="round" fill="none"/>
<text x="797.50" y="260.08" font-size="14.31" fill="#808080" textLength="92.67" lengthAdjust="spacingAndGlyphs">281° (36 м/с)</text>
<path d="M756.50,325.51 L732.24,319.46 L731.63,309.00 L732.24,319.46 L735.27,320.22 L734.66,309.76 L735.27,320.22 L738.31,320.97 L737.69,310.51 L738.31,320.97 L741.34,321.73 L740.73,311.27 L741.34,321.73 L756.50,325.51" stroke="#000" stroke-width="2.0" stroke-linejoin="round" fill="none"/>
<text x="797.50" y="326.51" font-size="14.31" fill="#808080" textLength="92.67" lengthAdjust="spacingAndGlyphs">284° (38 м/с)</text>
<path d="M756.50,379.78 L732.72,372.06 L732.84,361.58 L732.72,372.06 L735.70,373.03 L735.81,362.55 L735.70,373.03 L738.67,373.99 L738.79,363.51 L738.67,373.99 L756.50,379.78" stroke="#000" stroke-width="2.0" stroke-linejoin="round" fill="none"/>
<text x="797.50" y="380.78" font-size="14.31" fill="#808080" textLength="92.67" lengthAdjust="spacingAndGlyphs">288° (30 м/с)</text>
<path d="M756.50,465.43 L733.32,456.06 L734.17,445.62 L733.32,456.06 L736.22,457.23 L737.07,446.79 L736.22,457.23 L756.50,465.43" stroke="#000" stroke-width="2.0" stroke-linejoin="round" fill="none"/>
<text x="797.50" y="466.43" font-size="14.31" fill="#808080" textLength="92.67" lengthAdjust="spacingAndGlyphs">292° (22 м/с)</text>
<path d="M756.50,531.86 L733.32,522.49 L734.17,512.05 L733.32,522.49 L736.22,523.66 L736.64,518.44 L736.22,523.66 L756.50,531.86" stroke="#000" stroke-width="2.0" stroke-linejoin="round" fill="none"/>
<text x="797.50" y="532.86" font-size="14.31" fill="#808080" textLength="92.67" lengthAdjust="spacingAndGlyphs">292° (16 м/с)</text>
<path d="M756.50,632.02 L731.88,627.68 L736.50,628.50 L735.83,623.30 L736.50,628.50 L756.50,632.02" stroke="#000" stroke-width="2.0" stroke-linejoin="round" fill="none"/>
<text x="797.50" y="633.02" font-size="14.31" fill="#808080" textLength="83.83" lengthAdjust="spacingAndGlyphs">280° (5 м/с)</text>
<path d="M756.50,689.82 L772.90,708.69 L769.83,705.15 L767.08,709.61 L769.83,705.15 L756.50,689.82" stroke="#000" stroke-width="2.0" stroke-linejoin="round" fill="none"/>
<text x="797.50" y="690.82" font-size="14.31" fill="#808080" textLength="83.83" lengthAdjust="spacingAndGlyphs">139° (5 м/с)</text>
<path d="M756.50,715.00 L779.34,725.16 L775.06,723.26 L774.45,728.46 L775.06,723.26 L756.50,715.00" stroke="#000" stroke-width="2.0" stroke-linejoin="round" fill="none"/>
<text x="797.50" y="716.00" font-size="14.31" fill="#808080" textLength="83.83" lengthAdjust="spacingAndGlyphs">114° (7 м/с)</text>
<path d="M756.50,738.21 L779.34,748.37 L775.06,746.47 L774.45,751.67 L775.06,746.47 L756.50,738.21" stroke="#000" stroke-width="2.0" stroke-linejoin="round" fill="none"/>
<text x="797.50" y="739.21" font-size="14.31" fill="#808080" textLength="83.83" lengthAdjust="spacingAndGlyphs">114° (7 м/с)</text>
</svg>
</body></html>
